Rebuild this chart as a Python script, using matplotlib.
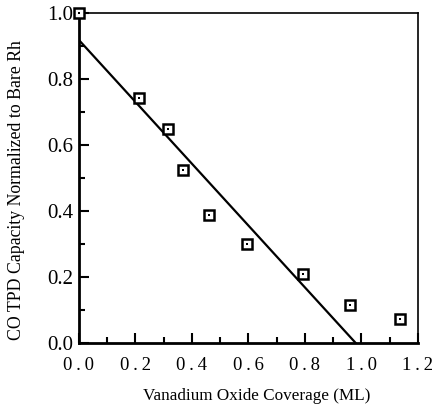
import numpy as np
import matplotlib.pyplot as plt
from matplotlib.ticker import MultipleLocator

# ------------------------------------------------------------------ DATA
coverage = [0.0, 0.213, 0.316, 0.368, 0.461, 0.595, 0.794, 0.961, 1.138]
capacity = [1.0, 0.742, 0.648, 0.524, 0.388, 0.300, 0.209, 0.115, 0.073]

fit_x = [0.0, 0.98]
fit_y = [0.918, 0.0]

x_ticks = [0.0, 0.2, 0.4, 0.6, 0.8, 1.0, 1.2]
y_ticks = [0.0, 0.2, 0.4, 0.6, 0.8, 1.0]

# ------------------------------------------------------------------ FIGURE
plt.rcParams['font.family'] = ['Liberation Serif', 'DejaVu Serif']

fig = plt.figure(figsize=(4.34, 4.07), dpi=100)
fig.patch.set_facecolor('white')
ax = fig.add_axes([0.182, 0.157, 0.781, 0.811])

ax.plot(fit_x, fit_y, color='black', lw=1.6, zorder=2)

# open squares with a small dot in the middle
ax.plot(coverage, capacity, ls='none', marker='s', ms=6.5,
        mfc='white', mec='black', mew=1.8, clip_on=False, zorder=3)
ax.plot(coverage, capacity, ls='none', marker='s', ms=1.6,
        mfc='black', mec='black', mew=0, clip_on=False, zorder=4)

ax.set_xlim(0, 1.2)
ax.set_ylim(0, 1.0)
ax.set_xticks(x_ticks)
ax.set_yticks(y_ticks)
# x tick labels in the scan are set with wide letter spacing
ax.set_xticklabels([f'{v:.1f}'.replace('.', '\u2009.\u2009') for v in x_ticks],
                   fontsize=13.5)
ax.set_yticklabels([f'{v:.1f}' for v in y_ticks], fontsize=15)
ax.xaxis.set_minor_locator(MultipleLocator(0.1))
ax.yaxis.set_minor_locator(MultipleLocator(0.1))

ax.tick_params(which='both', direction='in', top=False, right=False,
               width=1.5, colors='black')
ax.tick_params(which='major', length=7)
ax.tick_params(axis='x', which='major', pad=10)
ax.tick_params(axis='y', which='major', pad=4)
ax.tick_params(which='minor', length=4)

for side in ['left', 'bottom']:
    ax.spines[side].set_linewidth(2)
for side in ['top', 'right']:
    ax.spines[side].set_linewidth(1.2)

ax.set_xlabel('Vanadium Oxide Coverage (ML)', fontsize=12.3)
ax.set_ylabel('CO TPD Capacity Normalized to Bare Rh', fontsize=12.8)
ax.xaxis.set_label_coords(0.525, -0.135)
ax.yaxis.set_label_coords(-0.16, 0.464)

plt.savefig('out.png', dpi=100)
